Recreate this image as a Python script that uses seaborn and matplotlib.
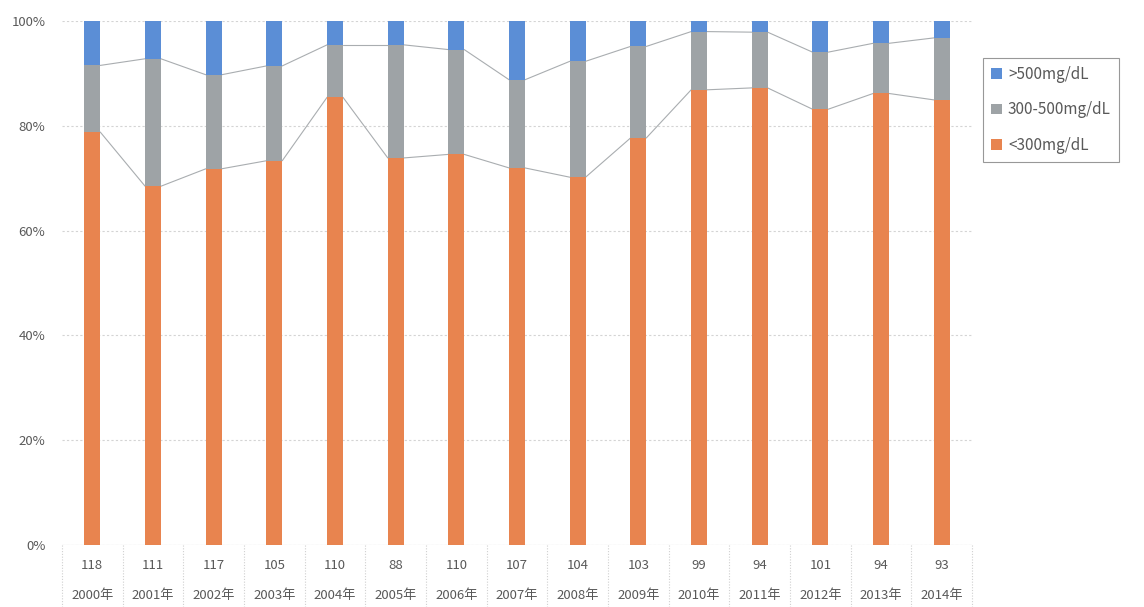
import numpy as np
import pandas as pd
import matplotlib
matplotlib.use("Agg")
import matplotlib.pyplot as plt
import seaborn as sns
from matplotlib.patches import Patch

# Patient counts per year, split by triglyceride level
years = ["2000", "2001", "2002", "2003", "2004", "2005", "2006", "2007",
         "2008", "2009", "2010", "2011", "2012", "2013", "2014"]
low = [93, 76, 84, 77, 94, 65, 82, 77, 73, 80, 86, 82, 84, 81, 79]     # <300mg/dL
mid = [15, 27, 21, 19, 11, 19, 22, 18, 23, 18, 11, 10, 11, 9, 11]      # 300-500mg/dL
high = [10, 8, 12, 9, 5, 4, 6, 12, 8, 5, 2, 2, 6, 4, 3]                # >500mg/dL
series_names = [">500mg/dL", "300-500mg/dL", "<300mg/dL"]

c_high = "#5B8ED6"
c_mid = "#9EA3A6"
c_low = "#E8844F"
txt = "#595959"

sns.set_theme(style="white")
plt.rcParams["font.family"] = ["Noto Sans CJK JP", "DejaVu Sans"]

low_a = np.array(low, float)
mid_a = np.array(mid, float)
high_a = np.array(high, float)
total = low_a + mid_a + high_a
p_low = low_a / total * 100
p_mid_top = (low_a + mid_a) / total * 100
p_top = total / total * 100

labels = [f"{int(n)}\n{y}年" for n, y in zip(total, years)]
df = pd.DataFrame({"label": labels, "low": p_low, "mid_top": p_mid_top, "top": p_top})

fig = plt.figure(figsize=(11.44, 6.07), dpi=100)
ax = fig.add_axes([0.0542, 0.1021, 0.7955, 0.8633])

bw = 0.26
sns.barplot(data=df, x="label", y="top", color=c_high, width=bw, ax=ax,
            saturation=1, edgecolor="none", zorder=3)
sns.barplot(data=df, x="label", y="mid_top", color=c_mid, width=bw, ax=ax,
            saturation=1, edgecolor="none", zorder=3)
sns.barplot(data=df, x="label", y="low", color=c_low, width=bw, ax=ax,
            saturation=1, edgecolor="none", zorder=3)

# Series lines joining the segment boundaries of neighbouring bars
xs = np.arange(len(years))
for level in (p_low, p_mid_top):
    for i in range(len(xs) - 1):
        ax.plot([xs[i] + bw / 2, xs[i + 1] - bw / 2], [level[i], level[i + 1]],
                color="#A9ADB0", lw=0.8, zorder=2)

ax.set_xlim(-0.5, len(years) - 0.5)
ax.set_ylim(0, 100)
ax.set_yticks(np.arange(0, 101, 20))
ax.set_yticklabels([f"{v}%" for v in range(0, 101, 20)])
ax.yaxis.grid(True, color="#D4D4D4", lw=0.8, ls=(0, (2, 2)), zorder=0)
ax.set_xlabel("")
ax.set_ylabel("")
for s in ["left", "right", "bottom", "top"]:
    ax.spines[s].set_visible(False)

ax.tick_params(axis="y", length=0, labelsize=9.5, labelcolor=txt, pad=12)
ax.tick_params(axis="x", length=0, labelsize=9.5, labelcolor=txt, pad=10)
for t in ax.get_xticklabels():
    t.set_linespacing(2.7)

# Category separators beneath the axis
for b in np.arange(-0.5, len(years), 1.0):
    ax.plot([b, b], [0, -0.118], transform=ax.get_xaxis_transform(),
            color="#D0D0D0", lw=0.8, ls=(0, (1, 1.5)), clip_on=False)
ax.axhline(0, color="#D9D9D9", lw=0.8, zorder=1)

handles = [Patch(facecolor=c, edgecolor="none") for c in (c_high, c_mid, c_low)]
leg = fig.legend(handles, series_names, loc="upper left",
                 bbox_to_anchor=(0.859, 0.905), frameon=True, fancybox=False,
                 fontsize=11, handlelength=0.7, handleheight=0.7,
                 handletextpad=0.4, labelspacing=1.2, borderpad=0.55,
                 borderaxespad=0, labelcolor=txt)
leg.get_frame().set_edgecolor("#7F7F7F")
leg.get_frame().set_linewidth(0.8)

fig.savefig("out.png", dpi=100, facecolor="white")
